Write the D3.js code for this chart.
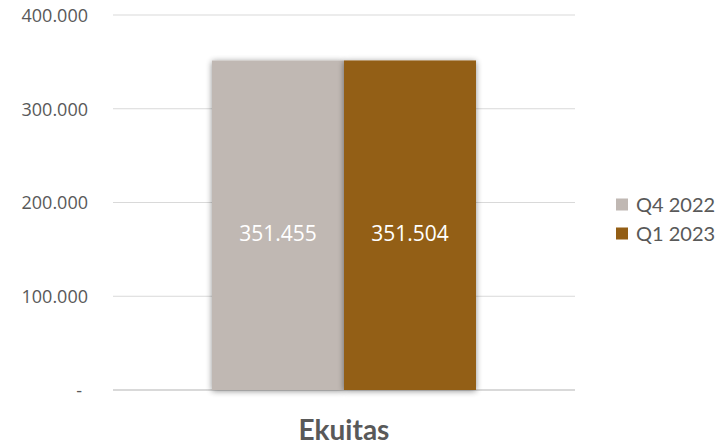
<!DOCTYPE html>
<html><head><meta charset="utf-8">
<script src="https://cdn.jsdelivr.net/npm/d3@7"></script>
<style>body{margin:0;background:#fff}svg{display:block}</style>
</head><body>
<svg id="c" width="727" height="446"></svg>
<script>
const categories = ["Ekuitas"];
const seriesNames = ["Q4 2022", "Q1 2023"];
const seriesValues = [351455, 351504];
const colors = ["#C0B8B3", "#935E15"];
const yTicks = [0, 100000, 200000, 300000, 400000];

const svg = d3.select("#c");
const defs = svg.append("defs");
const f = defs.append("filter").attr("id","sh").attr("x","-20%").attr("y","-20%").attr("width","140%").attr("height","140%");
f.append("feGaussianBlur").attr("in","SourceAlpha").attr("stdDeviation",3).attr("result","b");
f.append("feOffset").attr("in","b").attr("dx",0).attr("dy",1).attr("result","o");
f.append("feComponentTransfer").attr("in","o").attr("result","o2").append("feFuncA").attr("type","linear").attr("slope",0.45);
const m = f.append("feMerge"); m.append("feMergeNode").attr("in","o2"); m.append("feMergeNode").attr("in","SourceGraphic");

const x0 = d3.scaleBand().domain(categories).range([113, 575]).paddingInner(0).paddingOuter(0.375);
const x1 = d3.scaleBand().domain(seriesNames).range([0, x0.bandwidth()]);
const y = d3.scaleLinear().domain([0, 400000]).range([390, 15]);
const fmt = v => v === 0 ? "-" : d3.format(",")(v).replace(/,/g, ".");

// gridlines
svg.append("g").selectAll("line").data(yTicks).join("line")
  .attr("x1", 113).attr("x2", 575)
  .attr("y1", d => y(d)).attr("y2", d => y(d))
  .attr("stroke", "#d9d9d9").attr("stroke-width", d => d === 0 ? 2 : 1);

// y axis labels
const yAxis = d3.axisLeft(y).tickValues(yTicks).tickSize(0).tickPadding(0).tickFormat(fmt);
const ga = svg.append("g").attr("transform", "translate(88,0)").call(yAxis);
ga.select(".domain").remove();
ga.selectAll("text").attr("font-family", "Open Sans, sans-serif").attr("font-size", 18).attr("fill", "#595959")
  .attr("dy", "0.35em");
ga.selectAll(".tick").filter(d => d === 0).select("text").attr("dx", -6);

// bars
const g = svg.append("g");
categories.forEach((c) => {
  const data = seriesNames.map((s, i) => ({ s, v: seriesValues[i], c: colors[i] }));
  g.selectAll("rect.bar").data(data).join("rect").attr("class","bar")
    .attr("x", d => x0(c) + x1(d.s)).attr("width", x1.bandwidth())
    .attr("y", d => y(d.v)).attr("height", d => y(0) - y(d.v))
    .attr("fill", d => d.c).attr("filter", "url(#sh)");
  g.selectAll("text.lbl").data(data).join("text").attr("class","lbl")
    .attr("x", d => x0(c) + x1(d.s) + x1.bandwidth() / 2)
    .attr("y", 234).attr("dy", "0.35em").attr("text-anchor", "middle")
    .attr("font-family", "Open Sans, sans-serif").attr("font-size", 21).attr("fill", "#fff")
    .text(d => fmt(d.v));
});

// category label
svg.append("g").selectAll("text").data(categories).join("text")
  .attr("x", d => x0(d) + x0.bandwidth() / 2).attr("y", 440)
  .attr("text-anchor", "middle").attr("font-family", "Lato, sans-serif").attr("font-weight", "bold")
  .attr("font-size", 28).attr("fill", "#595959").text(d => d);

// legend
const lg = svg.append("g").selectAll("g").data(seriesNames).join("g")
  .attr("transform", (d, i) => `translate(616,${204.5 + i * 29})`);
lg.append("rect").attr("x", 0).attr("y", -6).attr("width", 12).attr("height", 12).attr("fill", (d, i) => colors[i]);
lg.append("text").attr("x", 20).attr("y", 0).attr("dy", "0.35em")
  .attr("font-family", "Lato, sans-serif").attr("font-size", 20).attr("fill", "#595959").text(d => d);
</script>
</body></html>
